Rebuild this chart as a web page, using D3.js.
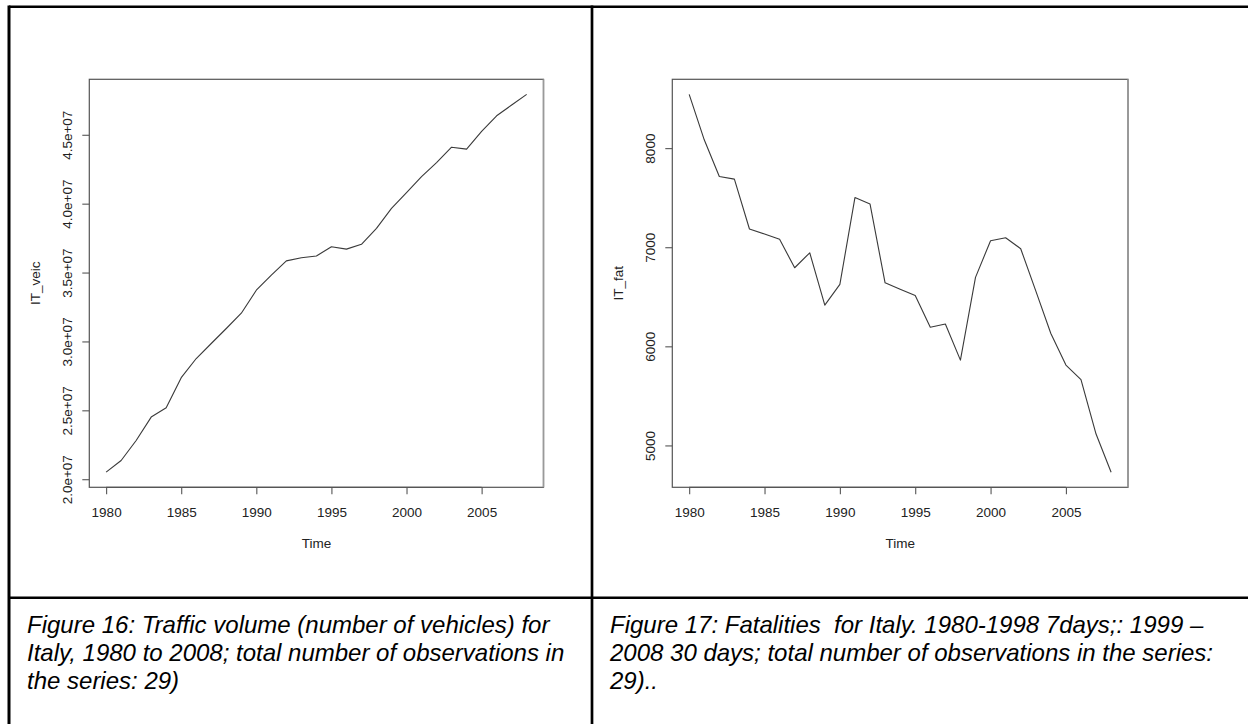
<!DOCTYPE html>
<html>
<head>
<meta charset="utf-8">
<script src="https://cdn.jsdelivr.net/npm/d3@7"></script>
<style>
  html, body { margin: 0; padding: 0; background: #fff; }
  svg { display: block; }
  text { font-family: "Liberation Sans", Arial, Helvetica, sans-serif; }
</style>
</head>
<body>
<svg id="chart" width="1248" height="724"></svg>
<script>
// ---- data ----
const years = [1980,1981,1982,1983,1984,1985,1986,1987,1988,1989,1990,1991,1992,1993,1994,
               1995,1996,1997,1998,1999,2000,2001,2002,2003,2004,2005,2006,2007,2008];
const vehicles = [2.051e7,2.136e7,2.281e7,2.451e7,2.519e7,2.737e7,2.876e7,2.985e7,3.094e7,3.205e7,
                  3.372e7,3.481e7,3.585e7,3.607e7,3.620e7,3.687e7,3.670e7,3.705e7,3.821e7,3.966e7,
                  4.080e7,4.196e7,4.298e7,4.410e7,4.396e7,4.524e7,4.638e7,4.716e7,4.793e7];
const fatalities = [8542,8084,7713,7687,7184,7133,7080,6793,6944,6416,6625,7501,7437,6641,6577,
                    6514,6193,6226,5861,6696,7066,7096,6985,6560,6129,5811,5664,5115,4730];
const xTicks = [1980,1985,1990,1995,2000,2005];
const vehTicks = [2.0e7,2.5e7,3.0e7,3.5e7,4.0e7,4.5e7];
const vehTickLabels = ["2.0e+07","2.5e+07","3.0e+07","3.5e+07","4.0e+07","4.5e+07"];
const fatTicks = [5000,6000,7000,8000];
const fatTickLabels = ["5000","6000","7000","8000"];
const caption16 = ["Figure 16: Traffic volume (number of vehicles) for",
                   "Italy, 1980 to 2008; total number of observations in",
                   "the series: 29)"];
const caption17 = ["Figure 17: Fatalities  for Italy. 1980-1998 7days;: 1999 \u2013",
                   "2008 30 days; total number of observations in the series:",
                   "29).."];

const svg = d3.select("#chart");

// ---- table frame ----
const frame = svg.append("g").attr("stroke", "#000").attr("stroke-width", 3);
frame.append("line").attr("x1", 9).attr("x2", 1248).attr("y1", 6.8).attr("y2", 6.8).attr("stroke-width", 2.6);
frame.append("line").attr("x1", 9).attr("x2", 9).attr("y1", 5.5).attr("y2", 724);
frame.append("line").attr("x1", 592).attr("x2", 592).attr("y1", 5.5).attr("y2", 724).attr("stroke-width", 2.7);
frame.append("line").attr("x1", 9).attr("x2", 1248).attr("y1", 597.8).attr("y2", 597.8).attr("stroke-width", 2.6);

function rPlot(opts) {
  const { left, right, top, bottom, values, yTicks, yLabels, yTitle } = opts;
  const g = svg.append("g");
  const xmin = d3.min(years), xmax = d3.max(years);
  const xpad = (xmax - xmin) * 0.04;
  const x = d3.scaleLinear().domain([xmin - xpad, xmax + xpad]).range([left, right]);
  const ymin = d3.min(values), ymax = d3.max(values);
  const ypad = (ymax - ymin) * 0.04;
  const y = d3.scaleLinear().domain([ymin - ypad, ymax + ypad]).range([bottom, top]);

  // series line
  g.append("path")
    .datum(years.map((yr, i) => [yr, values[i]]))
    .attr("fill", "none")
    .attr("stroke", "#3a3a3a")
    .attr("stroke-width", 1.1)
    .attr("stroke-linejoin", "round")
    .attr("d", d3.line().x(d => x(d[0])).y(d => y(d[1])));

  // box
  g.append("rect")
    .attr("x", left).attr("y", top)
    .attr("width", right - left).attr("height", bottom - top)
    .attr("fill", "none").attr("stroke", "#555").attr("stroke-width", 1.2);
  g.append("line")
    .attr("x1", right).attr("x2", right).attr("y1", top).attr("y2", bottom)
    .attr("stroke", "#9a9a9a").attr("stroke-width", 1.6);

  // x axis
  const xAxis = d3.axisBottom(x).tickValues(xTicks).tickSize(7).tickPadding(9)
    .tickFormat(d3.format("d")).tickSizeOuter(0);
  const xg = g.append("g").attr("transform", `translate(0,${bottom})`).call(xAxis);
  xg.select(".domain").remove();
  xg.append("line").attr("x1", x(xTicks[0])).attr("x2", x(xTicks[xTicks.length - 1]))
    .attr("stroke", "#555").attr("stroke-width", 1.2);
  xg.selectAll(".tick line").attr("stroke", "#555").attr("stroke-width", 1.1);
  xg.selectAll(".tick text").attr("font-size", 13.5).attr("fill", "#222")
    .attr("font-family", "'Liberation Sans', Arial, sans-serif")
    .attr("dy", null).attr("y", 29.4);

  // y axis
  const yAxis = d3.axisLeft(y).tickValues(yTicks).tickSize(7).tickSizeOuter(0)
    .tickFormat((d, i) => yLabels[i]);
  const yg = g.append("g").attr("transform", `translate(${left},0)`).call(yAxis);
  yg.select(".domain").remove();
  yg.selectAll(".tick line").attr("stroke", "#555").attr("stroke-width", 1.1);
  yg.selectAll(".tick text")
    .attr("font-size", 13.5).attr("fill", "#222")
    .attr("font-family", "'Liberation Sans', Arial, sans-serif")
    .attr("x", null).attr("dy", null)
    .attr("text-anchor", "middle")
    .attr("transform", "translate(-17.5,0) rotate(-90)");

  // titles
  g.append("text")
    .attr("x", (left + right) / 2).attr("y", 548.3)
    .attr("text-anchor", "middle").attr("font-size", 13.5).attr("fill", "#222")
    .text("Time");
  g.append("text")
    .attr("transform", `translate(${left - 49.5},${(top + bottom) / 2}) rotate(-90)`)
    .attr("text-anchor", "middle").attr("font-size", 13.5).attr("fill", "#222")
    .text(yTitle);
}

rPlot({ left: 89.3, right: 543.5, top: 79.3, bottom: 487.3,
        values: vehicles, yTicks: vehTicks, yLabels: vehTickLabels, yTitle: "IT_veic" });
rPlot({ left: 672.3, right: 1128, top: 79.3, bottom: 487.3,
        values: fatalities, yTicks: fatTicks, yLabels: fatTickLabels, yTitle: "IT_fat" });

// ---- captions ----
function caption(lines, x0) {
  svg.append("g").selectAll("text").data(lines).join("text")
    .attr("x", x0).attr("y", (d, i) => 633 + i * 27.8)
    .attr("font-size", 24).attr("font-style", "italic").attr("fill", "#000")
    .attr("xml:space", "preserve").style("white-space", "pre")
    .text(d => d);
}
caption(caption16, 27);
caption(caption17, 610);
</script>
</body>
</html>
